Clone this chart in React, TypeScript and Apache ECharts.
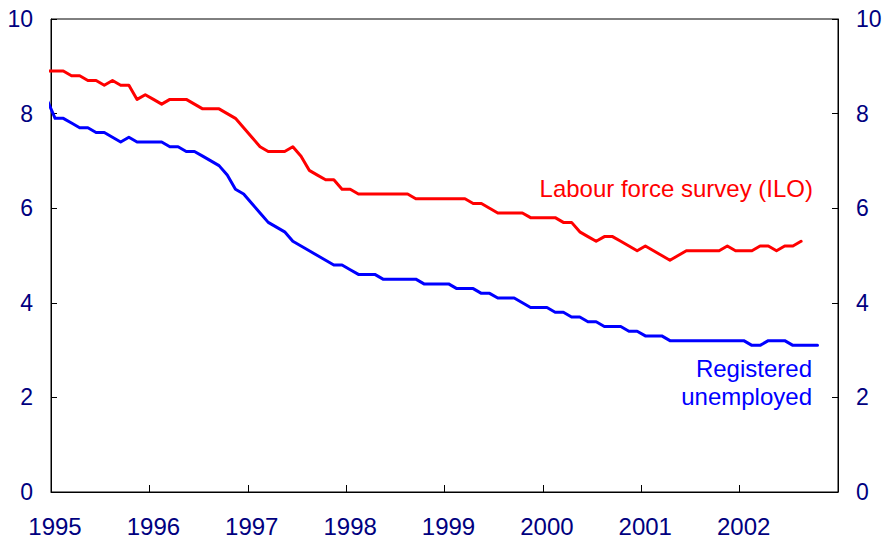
import React, { useEffect, useRef } from "react";
import * as echarts from "echarts";

// Monthly observations, starting December 1994 (percent of labour force)
const startYear = 1994;
const startMonth = 11; // 0-based month index of the first value (December)

const labourForceSurvey: number[] = [
  8.9,
  8.9, 8.9, 8.8, 8.8, 8.7, 8.7, 8.6, 8.7, 8.6, 8.6, 8.3, 8.4,
  8.3, 8.2, 8.3, 8.3, 8.3, 8.2, 8.1, 8.1, 8.1, 8.0, 7.9, 7.7,
  7.5, 7.3, 7.2, 7.2, 7.2, 7.3, 7.1, 6.8, 6.7, 6.6, 6.6, 6.4,
  6.4, 6.3, 6.3, 6.3, 6.3, 6.3, 6.3, 6.3, 6.2, 6.2, 6.2, 6.2,
  6.2, 6.2, 6.2, 6.1, 6.1, 6.0, 5.9, 5.9, 5.9, 5.9, 5.8, 5.8,
  5.8, 5.8, 5.7, 5.7, 5.5, 5.4, 5.3, 5.4, 5.4, 5.3, 5.2, 5.1,
  5.2, 5.1, 5.0, 4.9, 5.0, 5.1, 5.1, 5.1, 5.1, 5.1, 5.2, 5.1,
  5.1, 5.1, 5.2, 5.2, 5.1, 5.2, 5.2, 5.3,
];

const registeredUnemployed: number[] = [
  8.3,
  7.9, 7.9, 7.8, 7.7, 7.7, 7.6, 7.6, 7.5, 7.4, 7.5, 7.4, 7.4,
  7.4, 7.4, 7.3, 7.3, 7.2, 7.2, 7.1, 7.0, 6.9, 6.7, 6.4, 6.3,
  6.1, 5.9, 5.7, 5.6, 5.5, 5.3, 5.2, 5.1, 5.0, 4.9, 4.8, 4.8,
  4.7, 4.6, 4.6, 4.6, 4.5, 4.5, 4.5, 4.5, 4.5, 4.4, 4.4, 4.4,
  4.4, 4.3, 4.3, 4.3, 4.2, 4.2, 4.1, 4.1, 4.1, 4.0, 3.9, 3.9,
  3.9, 3.8, 3.8, 3.7, 3.7, 3.6, 3.6, 3.5, 3.5, 3.5, 3.4, 3.4,
  3.3, 3.3, 3.3, 3.2, 3.2, 3.2, 3.2, 3.2, 3.2, 3.2, 3.2, 3.2,
  3.2, 3.1, 3.1, 3.2, 3.2, 3.2, 3.1, 3.1, 3.1, 3.1,
];

const xMin = 1995;
const xMax = 2003;
const yTicks = [0, 2, 4, 6, 8, 10];

const labourLabel = "Labour force survey (ILO)";
const registeredLabel = ["Registered", "unemployed"];

const toPoints = (values: number[]) =>
  values.map((v, i) => [startYear + (startMonth + i + 0.5) / 12, v]);

const navy = "#000080";
const font = "Arial, 'Liberation Sans', sans-serif";

export default function App() {
  const ref = useRef<HTMLDivElement>(null);

  useEffect(() => {
    if (!ref.current) return;
    const chart = echarts.init(ref.current, null, { renderer: "svg" });

    const yAxisCommon = {
      type: "value" as const,
      min: yTicks[0],
      max: yTicks[yTicks.length - 1],
      interval: 2,
      splitLine: { show: false },
      axisLine: { show: true, lineStyle: { color: "#000", width: 1 } },
      axisTick: { show: true, inside: true, length: 6, lineStyle: { color: "#000" } },
      axisLabel: { color: navy, fontSize: 23, fontFamily: font, margin: 18 },
    };

    chart.setOption({
      animation: false,
      backgroundColor: "#fff",
      grid: {
        left: 51,
        right: 50,
        top: 19,
        bottom: 47,
        show: true,
        borderColor: "#000",
        borderWidth: 1,
        backgroundColor: "transparent",
      },
      xAxis: {
        type: "value",
        min: xMin,
        max: xMax,
        interval: 1,
        splitLine: { show: false },
        axisLine: { show: true, onZero: false, lineStyle: { color: "#000", width: 1 } },
        axisTick: { show: true, inside: true, length: 7, lineStyle: { color: "#000" } },
        axisLabel: {
          color: navy,
          fontSize: 24,
          fontFamily: font,
          margin: 22,
          padding: [0, 0, 0, 8],
          showMinLabel: true,
          showMaxLabel: true,
          formatter: (v: number) => (v >= xMax ? "" : String(Math.round(v))),
        },
      },
      yAxis: [
        { ...yAxisCommon, position: "left" },
        { ...yAxisCommon, position: "right" },
      ],
      series: [
        {
          name: labourLabel,
          type: "line",
          data: toPoints(labourForceSurvey),
          showSymbol: false,
          clip: true,
          lineStyle: { color: "#FF0000", width: 3, join: "round", cap: "round" },
          itemStyle: { color: "#FF0000" },
        },
        {
          name: registeredLabel.join(" "),
          type: "line",
          data: toPoints(registeredUnemployed),
          showSymbol: false,
          clip: true,
          lineStyle: { color: "#0000FF", width: 3, join: "round", cap: "round" },
          itemStyle: { color: "#0000FF" },
        },
      ],
      graphic: [
        {
          type: "text",
          right: 75,
          top: 176,
          style: {
            text: labourLabel,
            fill: "#FF0000",
            fontSize: 24,
            fontFamily: font,
            textAlign: "right",
          },
        },
        {
          type: "text",
          right: 76,
          top: 354,
          style: {
            text: registeredLabel.join("\n"),
            fill: "#0000FF",
            fontSize: 24,
            lineHeight: 28,
            fontFamily: font,
            textAlign: "right",
          },
        },
      ],
    });

    return () => chart.dispose();
  }, []);

  return (
    <div
      ref={ref}
      style={{ position: "fixed", left: 0, top: 0, width: 888, height: 539 }}
    />
  );
}
